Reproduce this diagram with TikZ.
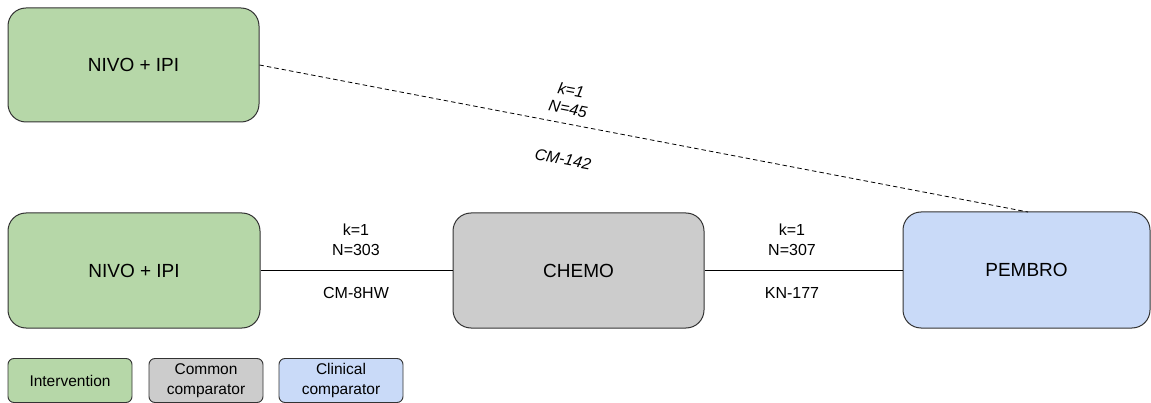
\documentclass[tikz,border=0pt]{standalone}
\usepackage{fontspec}
\setmainfont{Liberation Sans}
\definecolor{ggreen}{HTML}{B6D7A8}
\definecolor{ggray}{HTML}{CCCCCC}
\definecolor{gblue}{HTML}{C9DAF8}
\definecolor{edge}{HTML}{333333}
\begin{document}
\begin{tikzpicture}[x=1pt,y=-1pt,
  box/.style={draw=edge,line width=1pt,rounded corners=18pt,inner sep=0pt,font=\fontsize{19}{22}\selectfont},
  leg/.style={draw=edge,line width=0.9pt,rounded corners=6pt,inner sep=0pt,align=center,font=\fontsize{15.5}{20}\selectfont},
  lab/.style={font=\fontsize{16}{19}\selectfont,inner sep=0pt},
  conn/.style={draw=black,line width=0.8pt}]
\useasboundingbox (0,0) rectangle (1151,403);
\node[box,fill=ggreen,minimum width=251pt,minimum height=114pt] (nivoA) at (133.5,65) {NIVO + IPI};
\node[box,fill=ggreen,minimum width=252pt,minimum height=115pt] (nivoB) at (134,270.5) {NIVO + IPI};
\node[box,fill=ggray,minimum width=251pt,minimum height=115pt] (chemo) at (578.5,270.5) {CHEMO};
\node[box,fill=gblue,minimum width=247pt,minimum height=116pt] (pembro) at (1026.5,270) {PEMBRO};
\coordinate (pt) at (1028,212);
\draw[conn] (nivoB.east) -- (chemo.west);
\draw[conn] (chemo.east) -- (chemo.east -| pembro.west);
\draw[conn,dash pattern=on 4.5pt off 3pt] (nivoA.east) -- (pt);
\node[lab] (l1) at (356,230) {k=1};
\node[lab] (l2) at (356,250) {N=303};
\node[lab] (l3) at (356,293) {CM-8HW};
\node[lab] (r1) at (792,230) {k=1};
\node[lab] (r2) at (792,250) {N=307};
\node[lab] (r3) at (792,293) {KN-177};
\node[lab,rotate=-10.8] (d1) at (571,90) {\itshape k=1};
\node[lab,rotate=-10.8] (d2) at (568,109) {\itshape N=45};
\node[lab,rotate=-10.8] (d3) at (563,159) {\itshape CM-142};
\node[leg,fill=ggreen,minimum width=124pt,minimum height=44pt] (g1) at (70,380.5) {Intervention};
\node[leg,fill=ggray,minimum width=114pt,minimum height=44pt] (g2) at (206,380.5) {Common\\comparator};
\node[leg,fill=gblue,minimum width=124pt,minimum height=44pt] (g3) at (341,380.5) {Clinical\\comparator};
\end{tikzpicture}
\end{document}
